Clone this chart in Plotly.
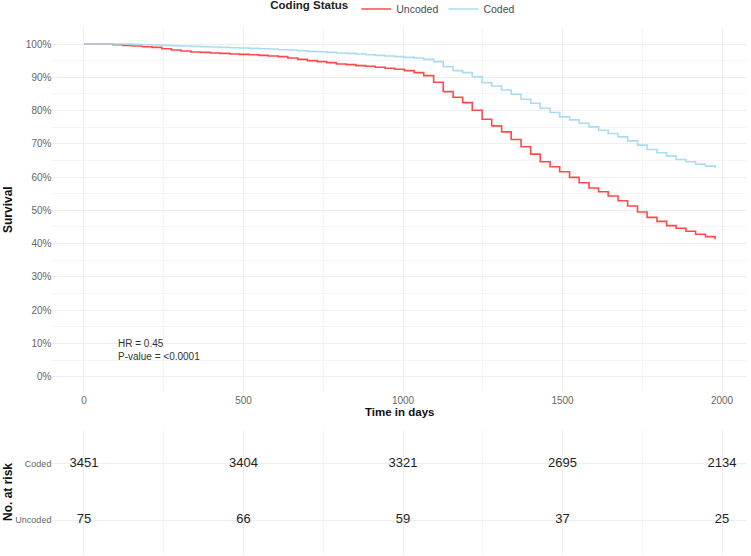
import plotly.graph_objects as go

# ---------------- data ----------------
time_days = [0, 30, 61, 91, 122, 152, 183, 213, 244, 274, 304, 335, 365, 396, 426, 457,
             487, 518, 548, 578, 609, 639, 670, 700, 731, 761, 791, 822, 852, 883, 913,
             944, 974, 1004, 1035, 1065, 1096, 1126, 1157, 1187, 1217, 1248, 1278, 1309,
             1339, 1370, 1400, 1430, 1461, 1491, 1522, 1552, 1583, 1613, 1643, 1674, 1704,
             1735, 1765, 1796, 1826, 1856, 1887, 1917, 1948, 1978]

surv_uncoded = [100, 100, 100, 99.8, 99.6, 99.4, 99.2, 99.0, 98.6, 98.2, 97.9, 97.6, 97.5,
                97.3, 97.2, 97.0, 96.9, 96.8, 96.6, 96.4, 96.2, 95.8, 95.4, 95.0, 94.7, 94.4,
                94.0, 93.8, 93.5, 93.3, 93.0, 92.7, 92.4, 92.0, 91.4, 90.5, 88.5, 85.7, 84.0,
                82.4, 80.1, 77.4, 75.4, 73.6, 71.3, 69.1, 66.9, 64.6, 63.1, 61.6, 59.9, 58.3,
                56.7, 55.6, 54.3, 52.9, 51.3, 49.5, 47.9, 46.7, 45.4, 44.6, 43.7, 42.8, 42.1,
                41.3]

surv_coded = [100, 100, 100, 100, 100, 99.9, 99.8, 99.7, 99.6, 99.5, 99.4, 99.3, 99.2, 99.1,
              99.0, 98.9, 98.8, 98.7, 98.6, 98.5, 98.3, 98.2, 98.0, 97.8, 97.7, 97.5, 97.3,
              97.2, 97.0, 96.8, 96.6, 96.4, 96.2, 96.0, 95.8, 95.4, 94.7, 93.2, 92.0, 91.4,
              90.2, 88.4, 87.4, 86.2, 84.9, 83.4, 82.2, 80.7, 79.4, 78.1, 77.2, 76.2, 75.1,
              74.1, 73.1, 72.1, 70.9, 69.6, 68.3, 67.3, 66.3, 65.3, 64.6, 63.9, 63.3, 62.7]

risk_times = [0, 500, 1000, 1500, 2000]
risk_coded = [3451, 3404, 3321, 2695, 2134]
risk_uncoded = [75, 66, 59, 37, 25]
groups = ["Uncoded", "Coded"]

x_ticks = [0, 500, 1000, 1500, 2000]
y_ticks = [0, 10, 20, 30, 40, 50, 60, 70, 80, 90, 100]
y_tick_labels = ["0%", "10%", "20%", "30%", "40%", "50%", "60%", "70%", "80%", "90%", "100%"]

# ---------------- styling ----------------
RED = "#FF4A4A"
BLUE = "#A9DDF0"
GRID = "#EEEEEE"
MINOR = "#F5F5F5"
FONT = "Liberation Sans, Arial, sans-serif"
W, H = 751, 556

x_range = [-98.9, 2076.9]
x_dom = [52.4 / W, 746.6 / W]

fig = go.Figure()

fig.add_trace(go.Scatter(x=time_days, y=surv_uncoded, mode="lines", name="Uncoded",
                         line=dict(color=RED, width=1.6, shape="hv"),
                         xaxis="x", yaxis="y"))
fig.add_trace(go.Scatter(x=time_days, y=surv_coded, mode="lines", name="Coded",
                         line=dict(color=BLUE, width=1.6, shape="hv"),
                         xaxis="x", yaxis="y"))

# risk table
fig.add_trace(go.Scatter(x=risk_times, y=["Coded"] * len(risk_times), mode="text",
                         text=[str(v) for v in risk_coded],
                         textfont=dict(family=FONT, size=13, color="#222222"),
                         showlegend=False, xaxis="x2", yaxis="y2", hoverinfo="skip"))
fig.add_trace(go.Scatter(x=risk_times, y=["Uncoded"] * len(risk_times), mode="text",
                         text=[str(v) for v in risk_uncoded],
                         textfont=dict(family=FONT, size=13, color="#222222"),
                         showlegend=False, xaxis="x2", yaxis="y2", hoverinfo="skip"))

axis_common = dict(showline=False, zeroline=False, ticks="", automargin=False)

fig.update_layout(
    width=W, height=H,
    margin=dict(l=0, r=0, t=0, b=0, autoexpand=False),
    paper_bgcolor="white", plot_bgcolor="white",
    font=dict(family=FONT, size=10, color="#4D4D4D"),
    showlegend=True,
    legend=dict(orientation="h", x=0.525, xanchor="center", y=1.01, yanchor="top",
                title=dict(text="<b>Coding Status</b>", font=dict(size=11.5, color="#222222"),
                           side="left"),
                font=dict(size=10.5, color="#4D4D4D"), itemwidth=30,
                bgcolor="rgba(0,0,0,0)"),
    xaxis=dict(domain=x_dom, range=x_range, tickvals=x_ticks,
               gridcolor=GRID, gridwidth=1,
               minor=dict(dtick=250, tick0=0, showgrid=True, gridcolor=MINOR, gridwidth=0.7),
               tickfont=dict(size=10, color="#666666"), anchor="y", **axis_common),
    yaxis=dict(domain=[1 - 393.3 / H, 1 - 27.4 / H], range=[-5, 105], tickvals=y_ticks,
               ticktext=y_tick_labels, gridcolor=GRID, gridwidth=1,
               minor=dict(dtick=5, tick0=0, showgrid=True, gridcolor=MINOR, gridwidth=0.7),
               tickfont=dict(size=10, color="#666666"), anchor="x", **axis_common),
    xaxis2=dict(domain=x_dom, range=x_range, tickvals=x_ticks, showticklabels=False,
                gridcolor=GRID, gridwidth=1,
                minor=dict(dtick=250, tick0=0, showgrid=True, gridcolor=MINOR, gridwidth=0.7),
                anchor="y2", **axis_common),
    yaxis2=dict(domain=[1 - 555 / H, 1 - 430 / H], range=[-0.62, 1.6],
                type="category", categoryorder="array", categoryarray=groups,
                gridcolor=GRID, gridwidth=1,
                tickfont=dict(size=9, color="#666666"), anchor="x2", **axis_common),
)

annots = [
    dict(text="HR = 0.45", x=100, y=10.1, xref="x", yref="y", xanchor="left",
         yanchor="middle", showarrow=False, font=dict(size=10, color="#333333")),
    dict(text="P-value = <0.0001", x=100, y=6.2, xref="x", yref="y", xanchor="left",
         yanchor="middle", showarrow=False, font=dict(size=10, color="#333333")),
    dict(text="<b>Time in days</b>", x=(x_dom[0] + x_dom[1]) / 2, y=1 - 412 / H,
         xref="paper", yref="paper", xanchor="center", yanchor="middle", showarrow=False,
         font=dict(size=11.5, color="#111111")),
    dict(text="<b>Survival</b>", x=8 / W, y=1 - 210 / H, xref="paper", yref="paper",
         xanchor="center", yanchor="middle", textangle=-90, showarrow=False,
         font=dict(size=12, color="#111111")),
    dict(text="<b>No. at risk</b>", x=8 / W, y=1 - 492 / H, xref="paper", yref="paper",
         xanchor="center", yanchor="middle", textangle=-90, showarrow=False,
         font=dict(size=12, color="#111111")),
]
fig.update_layout(annotations=annots)

fig.write_html("out.html")
